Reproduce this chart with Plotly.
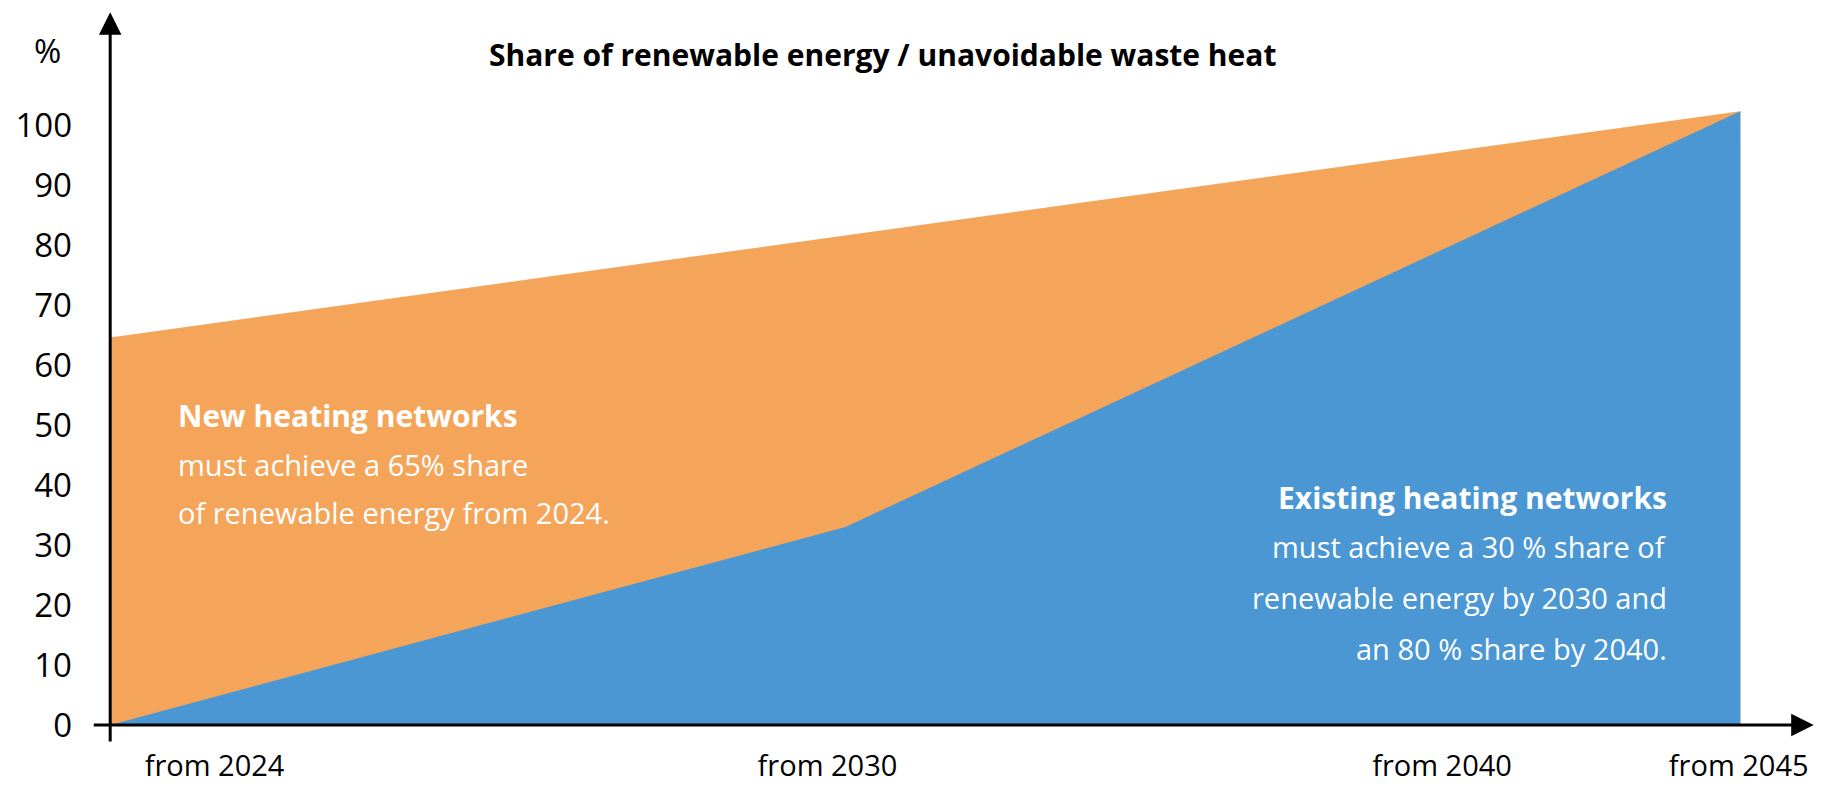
import plotly.graph_objects as go

# Schematic timeline positions (x) and shares in % (y)
existing_x = [0, 45.1, 100]
existing_share = [0, 33, 102.3]
new_x = [0, 100]
new_share = [64.6, 102.3]

tick_pos = [6.4, 44.0, 81.7, 99.9]
tick_labels = ["from 2024", "from 2030", "from 2040", "from 2045"]
y_ticks = [0, 10, 20, 30, 40, 50, 60, 70, 80, 90, 100]

title_text = "Share of renewable energy / unavoidable waste heat"
new_lines = ["<b>New heating networks</b>", "must achieve a 65% share",
             "of renewable energy from 2024."]
new_line_y = [51.6, 43.4, 35.5]
existing_lines = ["<b>Existing heating networks</b>", "must achieve a 30 % share of",
                  "renewable energy by 2030 and", "an 80 % share by 2040."]
existing_line_y = [38.0, 29.7, 21.2, 12.8]

ORANGE = "#F5A55A"
BLUE = "#4A97D4"
FONT = "Open Sans"

fig = go.Figure()
fig.add_trace(go.Scatter(x=new_x, y=new_share, mode="lines", fill="tozeroy",
                         fillcolor=ORANGE, line=dict(width=0, color=ORANGE),
                         hoverinfo="skip", showlegend=False))
fig.add_trace(go.Scatter(x=existing_x, y=existing_share, mode="lines", fill="tozeroy",
                         fillcolor=BLUE, line=dict(width=0, color=BLUE),
                         hoverinfo="skip", showlegend=False))

ann = []
# axes with arrows
ann.append(dict(x=0, y=118.8, ax=0, ay=-3, xref="x", yref="y", axref="x", ayref="y",
                showarrow=True, arrowhead=2, arrowsize=1.5, arrowwidth=3,
                arrowcolor="black", text="", standoff=0, startstandoff=0))
ann.append(dict(x=104.5, y=0, ax=-1.1, ay=0, xref="x", yref="y", axref="x", ayref="y",
                showarrow=True, arrowhead=2, arrowsize=1.5, arrowwidth=3,
                arrowcolor="black", text="", standoff=0, startstandoff=0))
ann.append(dict(x=47.4, y=111.7, xref="x", yref="y", text="<b>" + title_text + "</b>",
                showarrow=False, font=dict(family=FONT, size=30, color="black")))
ann.append(dict(x=-0.0241, y=0.938, xref="paper", yref="paper", text="%", showarrow=False,
                xanchor="center", yanchor="middle",
                font=dict(family=FONT, size=33, color="black")))
for i, (t, yy) in enumerate(zip(new_lines, new_line_y)):
    ann.append(dict(x=4.05, y=yy, xref="x", yref="y", text=t, showarrow=False,
                    xanchor="left",
                    font=dict(family=FONT, size=30 if i == 0 else 29, color="white")))
for i, (t, yy) in enumerate(zip(existing_lines, existing_line_y)):
    ann.append(dict(x=95.6, y=yy, xref="x", yref="y", text=t, showarrow=False,
                    xanchor="right",
                    font=dict(family=FONT, size=30 if i == 0 else 29, color="white")))

fig.update_layout(
    width=1839, height=787,
    margin=dict(l=89, r=9, t=5, b=41, autoexpand=False),
    paper_bgcolor="white", plot_bgcolor="white",
    annotations=ann,
    xaxis=dict(range=[-1.3, 105.5], showgrid=False, zeroline=False, showline=False,
               tickvals=tick_pos, ticktext=tick_labels, ticks="", automargin=False,
               tickfont=dict(family=FONT, size=29, color="black"), ticklabelstandoff=0),
    yaxis=dict(range=[-3.5, 120], showgrid=False, zeroline=False, showline=False,
               tickvals=y_ticks, ticks="", ticklabelstandoff=16, automargin=False,
               tickfont=dict(family=FONT, size=33, color="black")),
)

fig.write_html("out.html")
